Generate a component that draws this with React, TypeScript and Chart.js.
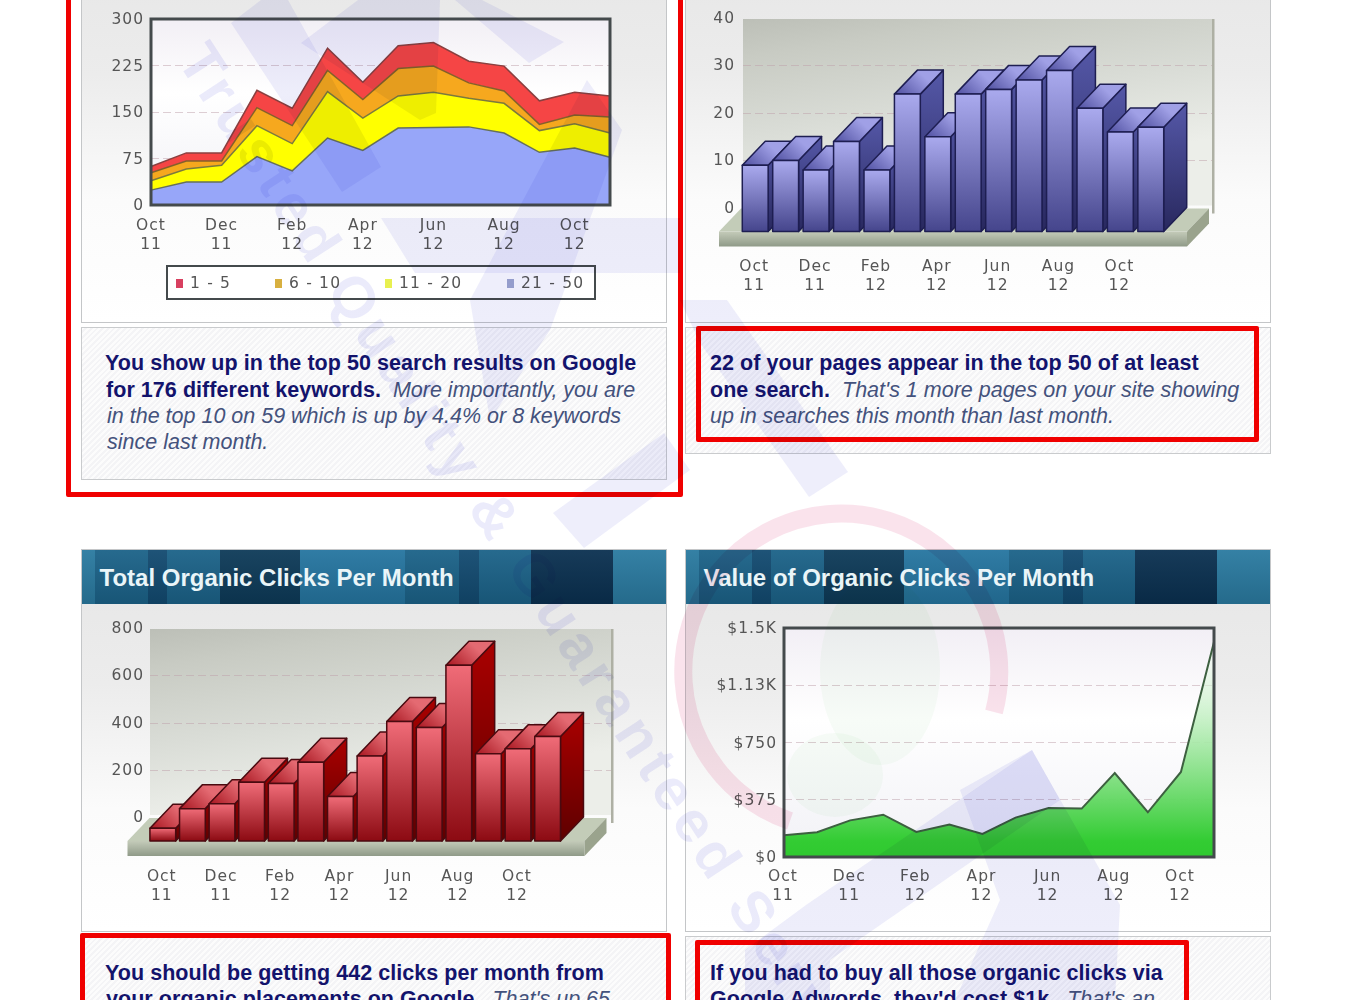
import React, { useEffect, useRef } from "react";
import { Chart, registerables } from "chart.js";
Chart.register(...registerables);

const months = [["Oct","11"],["Nov","11"],["Dec","11"],["Jan","12"],["Feb","12"],["Mar","12"],["Apr","12"],["May","12"],["Jun","12"],["Jul","12"],["Aug","12"],["Sep","12"],["Oct","12"],["Nov","12"]];
const rank21to50 = [24,37,37,78,55,108,88,124,125,126,116,85,92,77];
const rank11to20 = [15,21,27,50,44,75,52,52,57,46,48,35,39,39];
const rank6to10 = [13,13,7,29,29,34,30,44,42,25,20,10,14,26];
const rank1to5 = [10,13,13,28,28,36,28,37,38,35,40,38,37,34];
const rankedPages = [14,15,13,19,13,29,20,29,30,32,34,26,21,22];
const organicClicks = [54,137,158,249,243,333,188,360,506,480,744,369,390,442];
const clickValue = [142,162,240,277,164,212,151,258,321,317,550,293,557,1408];
const legendItems = [["1 - 5","#d84060",176,190],["6 - 10","#d8b040",275,289],["11 - 20","#e8f050",385,399],["21 - 50","#a0a8d0",507,521]];

const TICK = "#555";
const tickFont = { family: "'DejaVu Sans'", size: 15.5, lineHeight: 1.23 };
const GRID = "rgba(190,160,170,0.5)";

const letterSpacing = { id: "ls", beforeUpdate(c){ c.ctx.letterSpacing = "1px"; }, beforeDraw(c){ c.ctx.letterSpacing = "1px"; } };

const plotBg = { id: "plotBg", beforeDraw(c){
  const {ctx, chartArea:a} = c; const g = ctx.createLinearGradient(0,a.top,0,a.bottom);
  g.addColorStop(0,"#f2eff5"); g.addColorStop(.4,"#ffffff"); g.addColorStop(1,"#f1f1f6");
  ctx.fillStyle = g; ctx.fillRect(a.left,a.top,a.width,a.height);
}};
const plotFrame = { id: "plotFrame", afterDatasetsDraw(c){
  const {ctx, chartArea:a} = c; ctx.save(); ctx.strokeStyle="#444a4c"; ctx.lineWidth=3; ctx.strokeRect(a.left,a.top,a.width,a.height); ctx.restore();
}};

function make3d(p){
  return { id:"bars3d",
    beforeDraw(c){
      const {ctx} = c; const y = c.scales.y; const L=p.wallL, R=p.wallR, T=y.getPixelForValue(y.max)+1, B=y.getPixelForValue(0)-2;
      ctx.save();
      const g = ctx.createLinearGradient(L,T,L+(R-L)*.06,B);
      g.addColorStop(0,"#bcbfb7"); g.addColorStop(.2,"#c8cbc3"); g.addColorStop(.6,"#d9dcd6"); g.addColorStop(1,"#eceee9");
      ctx.fillStyle=g; ctx.fillRect(L,T,R-L,B-T);
      ctx.fillStyle="#aeb0a4"; ctx.fillRect(R,T,2.5,B-T+8);
      ctx.strokeStyle=GRID; ctx.setLineDash([8,4]); ctx.lineWidth=1;
      y.ticks.forEach(t=>{ if(t.value>0&&t.value<y.max){ const py=Math.round(y.getPixelForValue(t.value))+.5; ctx.beginPath(); ctx.moveTo(L,py); ctx.lineTo(R,py); ctx.stroke(); }});
      ctx.setLineDash([]);
      const base=y.getPixelForValue(0)+p.dy, fl=p.floorL, fr=p.floorR, h=15, d=p.dx-1;
      ctx.fillStyle="#c3ccb8"; ctx.beginPath(); ctx.moveTo(fl,base); ctx.lineTo(fr,base); ctx.lineTo(fr+d,base-p.dy+1); ctx.lineTo(fl+d,base-p.dy+1); ctx.closePath(); ctx.fill();
      const fg=ctx.createLinearGradient(0,base,0,base+h); fg.addColorStop(0,"#c4cbb9"); fg.addColorStop(1,"#8f9a88");
      ctx.fillStyle=fg; ctx.fillRect(fl,base,fr-fl,h);
      ctx.fillStyle="#9aa38d"; ctx.beginPath(); ctx.moveTo(fr,base); ctx.lineTo(fr+d,base-p.dy+1); ctx.lineTo(fr+d,base-p.dy+1+h); ctx.lineTo(fr,base+h); ctx.closePath(); ctx.fill();
      ctx.restore();
    },
    afterDatasetsDraw(c){
      const {ctx} = c; const meta=c.getDatasetMeta(0); const {dx,dy}=p;
      ctx.save(); ctx.lineJoin="round";
      meta.data.forEach(b=>{
        const w=b.width, l=b.x-w/2, r=b.x+w/2, t=b.y+p.dy, bt=b.base+p.dy;
        ctx.lineWidth=1.5; ctx.strokeStyle=p.edge;
        let g=ctx.createLinearGradient(0,t-dy,0,bt);
        g.addColorStop(0,p.side[0]); g.addColorStop(1,p.side[1]);
        ctx.fillStyle=g; ctx.beginPath(); ctx.moveTo(r,t); ctx.lineTo(r+dx,t-dy); ctx.lineTo(r+dx,bt-dy); ctx.lineTo(r,bt); ctx.closePath(); ctx.fill(); ctx.stroke();
        g=ctx.createLinearGradient(l,t,l+dx,t-dy);
        g.addColorStop(0,p.top[0]); g.addColorStop(1,p.top[1]);
        ctx.fillStyle=g; ctx.beginPath(); ctx.moveTo(l,t); ctx.lineTo(r,t); ctx.lineTo(r+dx,t-dy); ctx.lineTo(l+dx,t-dy); ctx.closePath(); ctx.fill(); ctx.stroke();
        g=ctx.createLinearGradient(0,t,0,bt);
        g.addColorStop(0,p.front[0]); g.addColorStop(1,p.front[1]);
        ctx.fillStyle=g; ctx.fillRect(l,t,w,bt-t); ctx.strokeRect(l,t,w,bt-t);
      });
      ctx.restore();
    }
  };
}

function axes(o){
  return {
    x:{ stacked:o.stacked, offset:o.offset, grid:{display:false}, border:{display:false},
      afterFit(s){ s.height=o.xH; },
      ticks:{ autoSkip:false, maxRotation:0, minRotation:0, padding:o.xPad, color:TICK, font:tickFont, labelOffset:o.xOff||0,
        callback(v,i){ return i%2===0 ? this.getLabelForValue(v) : ""; } } },
    y:{ stacked:o.stacked, min:0, max:o.max, grid:{display:o.grid, color:GRID, drawTicks:false, lineWidth:1}, border:{display:false, dash:[8,4]},
      afterFit(s){ s.width=o.yW; },
      afterBuildTicks(s){ s.ticks=o.ticks.map(value=>({value})); },
      ticks:{ padding:o.yPad, color:TICK, font:tickFont, labelOffset:1, callback:o.fmt||(v=>String(v)) } },
  };
}
const base = { responsive:false, animation:false, devicePixelRatio:1, plugins:{legend:{display:false},tooltip:{enabled:false},title:{display:false}} };

function ChartBox({left,top,width,height,make}){
  const ref = useRef(null);
  useEffect(()=>{ const c=new Chart(ref.current,make()); return ()=>c.destroy(); },[]);
  return <canvas ref={ref} width={width} height={height} style={{position:"absolute",left,top,width,height,display:"block"}}/>;
}

const areaChart = ()=>({ type:"line", plugins:[letterSpacing,plotBg,plotFrame],
  data:{ labels:months, datasets:[
    {label:"21 - 50",data:rank21to50,fill:"origin",backgroundColor:"#97a6f9",borderColor:"#66705a",borderWidth:1.5,pointRadius:0,tension:0},
    {label:"11 - 20",data:rank11to20,fill:"-1",backgroundColor:"#ffff00",borderColor:"#7c7a3c",borderWidth:1.5,pointRadius:0,tension:0},
    {label:"6 - 10",data:rank6to10,fill:"-1",backgroundColor:"#f6a81e",borderColor:"#85602a",borderWidth:1.5,pointRadius:0,tension:0},
    {label:"1 - 5",data:rank1to5,fill:"-1",backgroundColor:"#f54545",borderColor:"#8a4040",borderWidth:1.5,pointRadius:0,tension:0},
  ]},
  options:{...base, layout:{padding:{top:19,right:57,left:0,bottom:0}},
    scales:axes({stacked:true,offset:false,xH:117,xPad:3,yW:70,yPad:7,max:300,grid:true,ticks:[0,75,150,225,300]})}
});
const barOpts = (o)=>({...base, layout:{padding:{top:o.top,right:o.right,left:0,bottom:0}},
  scales:axes({stacked:false,offset:true,xH:o.xH,xPad:o.xPad,xOff:-1,yW:o.yW,yPad:o.yPad,max:o.max,grid:false,ticks:o.ticks})});
const pagesChart = ()=>({ type:"bar",
  plugins:[letterSpacing,make3d({dx:23,dy:24,wallL:58,wallR:527,floorL:34,floorR:502,edge:"#1e1e52",front:["#aaaaee","#45458c"],top:["#4f4fa0","#a0a0e6"],side:["#5558a8","#28285e"]})],
  data:{ labels:months, datasets:[{label:"Pages",data:rankedPages,backgroundColor:"rgba(0,0,0,0)",categoryPercentage:1,barPercentage:.85}]},
  options:barOpts({top:18,right:105,xH:114.5,xPad:42,yW:55,yPad:5,max:40,ticks:[0,10,20,30,40]})
});
const clicksChart = ()=>({ type:"bar",
  plugins:[letterSpacing,make3d({dx:23,dy:24,wallL:69,wallR:530,floorL:46.5,floorR:503.5,edge:"#4a0a10",front:["#f06c78","#8c0a12"],top:["#a81620","#e46a72"],side:["#aa0000","#5e0000"]})],
  data:{ labels:months, datasets:[{label:"Clicks",data:organicClicks,backgroundColor:"rgba(0,0,0,0)",categoryPercentage:1,barPercentage:.87}]},
  options:barOpts({top:24,right:104.6,xH:114,xPad:42,yW:67,yPad:4,max:800,ticks:[0,200,400,600,800]})
});
const valueLabels = {0:"$0",375:"$375",750:"$750",1125:"$1.13K",1500:"$1.5K"};
const valueChart = ()=>({ type:"line", plugins:[letterSpacing,plotBg,plotFrame],
  data:{ labels:months, datasets:[{label:"Value",data:clickValue,fill:"origin",borderColor:"#3d6040",borderWidth:2,pointRadius:0,tension:0,
    backgroundColor(ctx){ const a=ctx.chart.chartArea; if(!a) return "#3c3"; const g=ctx.chart.ctx.createLinearGradient(0,a.top,0,a.bottom);
      g.addColorStop(0,"rgba(255,255,255,0.2)"); g.addColorStop(.45,"rgba(180,236,180,.9)"); g.addColorStop(.93,"#33cc33"); g.addColorStop(1,"#2fc92f"); return g; } }]},
  options:{...base, layout:{padding:{top:24,right:57,left:0,bottom:0}},
    scales:axes({stacked:false,offset:false,xH:74,xPad:2,xOff:-1,yW:99,yPad:7,max:1500,grid:true,ticks:[0,375,750,1125,1500],fmt:v=>valueLabels[v]})}
});

const bands = "linear-gradient(to right,#2a7aa0 0 13px,#1b6288 13px 66px,#124a70 66px 85px,#1b6288 85px 138px,#0d3a58 138px 218px,#2575a0 218px 323px,#1b6288 323px 377px,#124a70 377px 397px,#1b6288 397px 449px,#0a3050 449px 531px,#2a7aa0 531px 586px)";
function Panel({left,top,height,title}){
  return <div style={{position:"absolute",left,top,width:586,height,boxSizing:"border-box",border:"1px solid #c4c6c8",
    background:"linear-gradient(#e6e6e6 0,#ececec 35%,#fbfbfb 68%,#fff 100%)"}}>
    {title && <div style={{position:"absolute",left:0,top:0,right:0,height:54,background:"linear-gradient(rgba(255,255,255,.05),rgba(0,0,0,.13))," + bands,
      color:"#eaf5f8",font:"bold 24px 'Liberation Sans'",lineHeight:"55px",paddingLeft:17.5,boxSizing:"border-box",whiteSpace:"nowrap"}}>{title}</div>}
  </div>;
}
function TextPanel({left,top,height}){
  return <div style={{position:"absolute",left,top,width:586,height,boxSizing:"border-box",border:"1px solid #c9cbcd",
    background:"repeating-linear-gradient(135deg,#fcfcfc 0 2px,#f4f4f6 2px 4px)"}}/>;
}
function Line({x,y,bold,em}){
  return <div style={{position:"absolute",left:x,top:y-14,height:28,whiteSpace:"pre",font:"21.5px/28px 'Liberation Sans'",color:"#44527c"}}>
    {bold && <b style={{color:"#13136c",letterSpacing:".05px"}}>{bold}</b>}{em && <i>{em}</i>}
  </div>;
}
function Frame({left,top,width,height}){
  return <div style={{position:"absolute",left,top,width,height,boxSizing:"border-box",border:"5px solid #f00000",borderRadius:2}}/>;
}

function Watermark(){
  const blue="rgba(70,70,215,.09)";
  const polys=["231,23 261,0 288,0 381,167 342,192","301,43 358,0 440,0 436,113 420,120","455,0 482,0 564,42 529,63","381,218 680,218 680,273 415,273","587,80 622,130 550,330 490,420 470,300","664,433 690,470 584,548 553,513","680,300 727,300 848,472 809,497 700,343","806,905 1032,750 1060,800 830,960 830,1000 745,1000 745,950","1032,750 1120,905 1115,1000 955,1000 1000,900 960,790"];
  return <svg width={1350} height={1000} style={{position:"absolute",left:0,top:0,mixBlendMode:"multiply",pointerEvents:"none"}}>
    {polys.map((p,i)=><polygon key={i} points={p} fill={blue}/>)}
    <path d="M 994 712 A 158 158 0 1 0 790 821" fill="none" stroke="rgba(225,90,140,.17)" strokeWidth={18}/>
    <ellipse cx={880} cy={670} rx={60} ry={95} fill="rgba(90,190,90,.05)"/>
    <ellipse cx={835} cy={775} rx={48} ry={42} fill="rgba(90,190,90,.05)"/>
    <text transform="translate(176,60) rotate(57)" fill="rgba(70,70,215,.11)" style={{font:"bold 58px 'Liberation Sans'",letterSpacing:"6px"}}>Trusted Quality &amp; Guaranteed Services</text>
  </svg>;
}

export default function App(){
  useEffect(()=>{ document.body.style.margin="0"; document.body.style.background="#fff"; },[]);
  return <div style={{position:"fixed",left:0,top:0,width:1350,height:1000,overflow:"hidden",background:"#fff",filter:"blur(0.3px)"}}>
    <Panel left={81} top={-60} height={383}/>
    <Panel left={685} top={-60} height={383}/>
    <TextPanel left={81} top={327} height={153}/>
    <TextPanel left={685} top={327} height={127}/>
    <Panel left={81} top={549} height={383} title="Total Organic Clicks Per Month"/>
    <Panel left={685} top={549} height={383} title="Value of Organic Clicks Per Month"/>
    <TextPanel left={81} top={936} height={100}/>
    <TextPanel left={685} top={936} height={100}/>

    <ChartBox left={81} top={0} width={586} height={322} make={areaChart}/>
    <ChartBox left={685} top={0} width={586} height={322} make={pagesChart}/>
    <ChartBox left={81} top={604} width={586} height={327} make={clicksChart}/>
    <ChartBox left={685} top={604} width={586} height={327} make={valueChart}/>

    <div style={{position:"absolute",left:166,top:265,width:430,height:35,boxSizing:"border-box",border:"2px solid #444a4c",background:"rgba(255,255,255,.9)"}}/>
    {legendItems.map(([t,c,sx,tx])=><React.Fragment key={t}>
      <div style={{position:"absolute",left:sx,top:279,width:7,height:9,background:c}}/>
      <div style={{position:"absolute",left:tx,top:272,font:"15.5px/22px 'DejaVu Sans'",letterSpacing:"1.2px",color:TICK,whiteSpace:"pre"}}>{t}</div>
    </React.Fragment>)}

    <Line x={105} y={363} bold="You show up in the top 50 search results on Google"/>
    <Line x={106} y={389.5} bold="for 176 different keywords." em="  More importantly, you are"/>
    <Line x={107} y={416} em="in the top 10 on 59 which is up by 4.4% or 8 keywords"/>
    <Line x={107} y={442} em="since last month."/>
    <Line x={710} y={363} bold="22 of your pages appear in the top 50 of at least"/>
    <Line x={710} y={389.5} bold="one search." em="  That's 1 more pages on your site showing"/>
    <Line x={710} y={416} em="up in searches this month than last month."/>
    <Line x={105} y={973} bold="You should be getting 442 clicks per month from"/>
    <Line x={106} y={999} bold="your organic placements on Google." em="  That's up 65"/>
    <Line x={710} y={973} bold="If you had to buy all those organic clicks via"/>
    <Line x={710} y={999} bold="Google Adwords, they'd cost $1k." em="  That's an"/>

    <Frame left={66} top={-20} width={617} height={517}/>
    <Frame left={696} top={326} width={563} height={116}/>
    <Frame left={80} top={933} width={591} height={100}/>
    <Frame left={695} top={940} width={494} height={100}/>
    <Watermark/>
  </div>;
}
